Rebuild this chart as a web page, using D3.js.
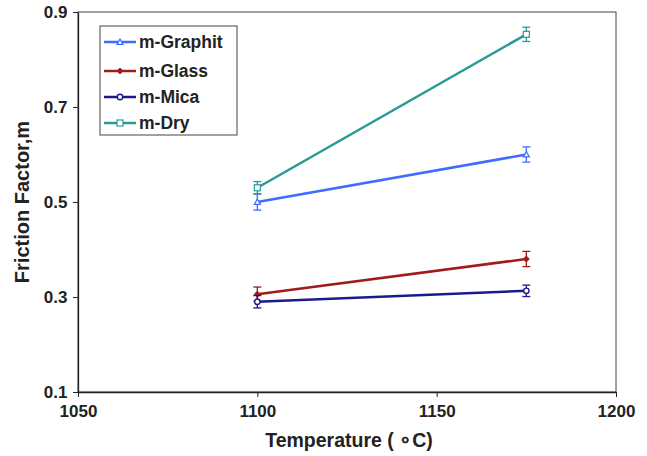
<!DOCTYPE html>
<html><head><meta charset="utf-8">
<script src="https://cdn.jsdelivr.net/npm/d3@7"></script>
<style>body{margin:0;background:#fff}svg{display:block;font-family:Arial,"Liberation Sans",sans-serif}</style>
</head><body><svg id="c" width="647" height="456"></svg>
<script>
const temps = [1100, 1175];
const seriesNames = ["m-Graphit", "m-Glass", "m-Mica", "m-Dry"];
const graphitVals = [0.50, 0.60];
const glassVals = [0.306, 0.38];
const micaVals = [0.29, 0.313];
const dryVals = [0.53, 0.853];
const graphitErr = [0.017, 0.016];
const glassErr = [0.015, 0.016];
const micaErr = [0.013, 0.012];
const dryErr = [0.013, 0.015];
const xTicks = [1050, 1100, 1150, 1200];
const yTicks = [0.1, 0.3, 0.5, 0.7, 0.9];

const colors = ["#3f6bff", "#a01c1c", "#1a1a8c", "#2a9a94"];
const markers = ["triangle", "diamond", "circle", "square"];
const vals = [graphitVals, glassVals, micaVals, dryVals];
const errs = [graphitErr, glassErr, micaErr, dryErr];

const svg = d3.select("#c");
const L = 78, R = 616, T = 12, B = 392;
const x = d3.scaleLinear().domain([1050, 1200]).range([L, R]);
const y = d3.scaleLinear().domain([0.1, 0.9]).range([B, T]);

svg.append("rect").attr("x", L).attr("y", T).attr("width", R - L).attr("height", B - T)
  .attr("fill", "none").attr("stroke", "#444").attr("stroke-width", 1);

const xa = svg.append("g").attr("transform", `translate(0,${B})`)
  .call(d3.axisBottom(x).tickValues(xTicks).tickFormat(d3.format("d")).tickSize(5).tickSizeOuter(0));
const ya = svg.append("g").attr("transform", `translate(${L},0)`)
  .call(d3.axisLeft(y).tickValues(yTicks).tickFormat(d3.format(".1f")).tickSize(5).tickSizeOuter(0));
[xa, ya].forEach(a => {
  a.select(".domain").attr("stroke", "#222").attr("stroke-width", 1.3);
  a.selectAll(".tick line").attr("stroke", "#222");
  a.selectAll("text").attr("font-size", 17).attr("font-weight", "bold").attr("fill", "#222")
   .attr("font-family", "Arial, 'Liberation Sans', sans-serif");
});
xa.selectAll("text").attr("dy", "1.0em");
ya.selectAll("text").attr("dx", "-0.15em");

svg.append("text").attr("x", (L + R) / 2 + 2).attr("y", 447).attr("text-anchor", "middle")
  .attr("font-size", 19.5).attr("font-weight", "bold").attr("fill", "#222").text("Temperature ( \u2218C)");
svg.append("text").attr("transform", `translate(29,${(T + B) / 2}) rotate(-90)`).attr("text-anchor", "middle")
  .attr("font-size", 20).attr("font-weight", "bold").attr("fill", "#222").text("Friction Factor,m");

function drawMarker(g, type, cx, cy, color, s) {
  if (type === "triangle") {
    g.append("path").attr("d", `M${cx},${cy - s}L${cx + s},${cy + s * 0.8}L${cx - s},${cy + s * 0.8}Z`)
      .attr("fill", "#fff").attr("stroke", color).attr("stroke-width", 1.2);
  } else if (type === "diamond") {
    g.append("path").attr("d", `M${cx},${cy - s}L${cx + s},${cy}L${cx},${cy + s}L${cx - s},${cy}Z`)
      .attr("fill", color).attr("stroke", color).attr("stroke-width", 1);
  } else if (type === "circle") {
    g.append("circle").attr("cx", cx).attr("cy", cy).attr("r", s * 0.9)
      .attr("fill", "#fff").attr("stroke", color).attr("stroke-width", 1.4);
  } else {
    g.append("rect").attr("x", cx - s).attr("y", cy - s).attr("width", 2 * s).attr("height", 2 * s)
      .attr("fill", "#fff").attr("stroke", color).attr("stroke-width", 1.2);
  }
}

const line = d3.line().x(d => x(d[0])).y(d => y(d[1]));
seriesNames.forEach((name, i) => {
  const g = svg.append("g");
  const pts = temps.map((t, j) => [t, vals[i][j], errs[i][j]]);
  g.append("path").attr("d", line(pts)).attr("fill", "none").attr("stroke", colors[i]).attr("stroke-width", 2.5);
  pts.forEach(p => {
    const cx = x(p[0]), y0 = y(p[1] + p[2]), y1 = y(p[1] - p[2]);
    g.append("line").attr("x1", cx).attr("x2", cx).attr("y1", y0).attr("y2", y1).attr("stroke", colors[i]).attr("stroke-width", 1.3);
    [y0, y1].forEach(yy => g.append("line").attr("x1", cx - 4).attr("x2", cx + 4).attr("y1", yy).attr("y2", yy)
      .attr("stroke", colors[i]).attr("stroke-width", 1.3));
    drawMarker(g, markers[i], cx, y(p[1]), colors[i], 3);
  });
});

const lg = svg.append("g");
lg.append("rect").attr("x", 100).attr("y", 26).attr("width", 137).attr("height", 109)
  .attr("fill", "#fff").attr("stroke", "#444").attr("stroke-width", 1);
const ly = [42, 71, 97, 123];
seriesNames.forEach((name, i) => {
  lg.append("line").attr("x1", 104).attr("x2", 136).attr("y1", ly[i]).attr("y2", ly[i])
    .attr("stroke", colors[i]).attr("stroke-width", 2.5);
  drawMarker(lg, markers[i], 120, ly[i], colors[i], 3);
  lg.append("text").attr("x", 139).attr("y", ly[i] + 6).attr("font-size", 17.5).attr("font-weight", "bold")
    .attr("fill", "#222").text(name);
});
</script></body></html>
